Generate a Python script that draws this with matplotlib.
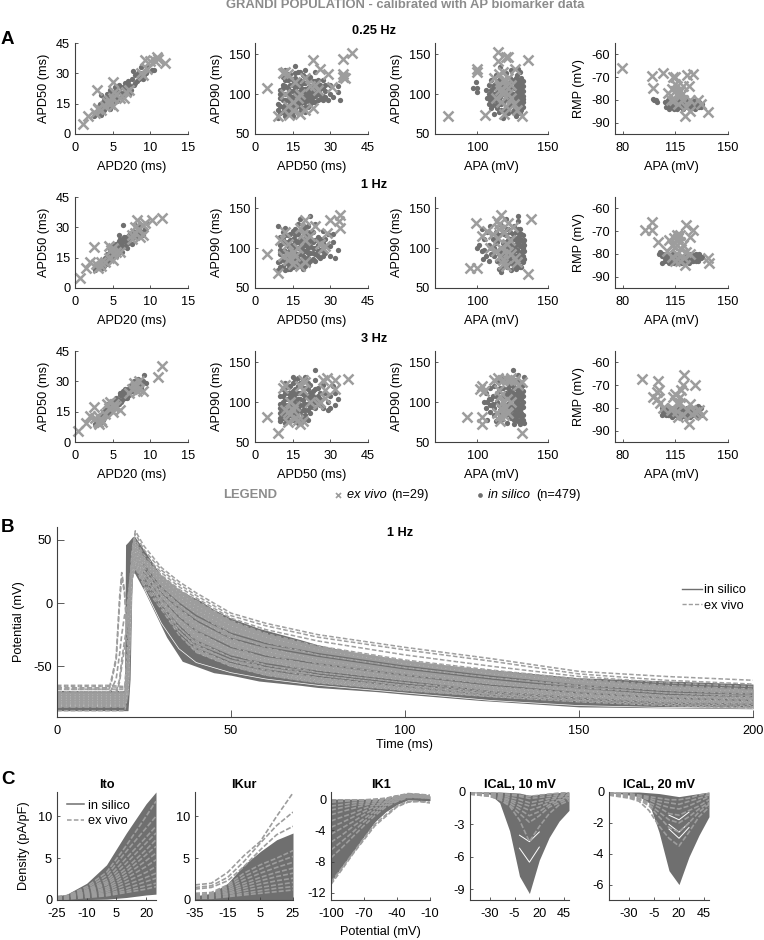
import numpy as np
import matplotlib
matplotlib.use("Agg")
from matplotlib import pyplot as plt
from matplotlib.lines import Line2D

plt.rcParams['font.family'] = ['Liberation Sans', 'DejaVu Sans']
plt.rcParams['font.size'] = 9.2
plt.rcParams['axes.unicode_minus'] = False

W, H = 764, 940
DARK = '#6f6f6f'
LIGHT = '#9d9d9d'
AXC = '#404040'

# ---- panel A, values as (x, y)
# 0.25 Hz
a1_apd2050_sil = [(2.5,9),(2.8,11),(3,10),(3.2,13),(3.4,11),(3.6,14),(3.8,12),(4,16),(4,13),(4.2,18),(4.3,20),(3.5,19.5),
    (4.5,15),(4.7,22),(4.8,17),(5,19),(5.2,16),(5.3,23),(5.5,20),(5.7,18),(5.9,24),(6,21),(6.2,19),(6.5,23),(6.7,25),
    (6.9,21),(7.2,24),(7.4,22),(7.7,31),(7.6,27),(7.8,24),(8,29),(8.2,26),(8.4,30),(8.6,28),(8.8,33),(9,27),(9.3,31),
    (9.6,33),(10.2,31.5),(10.5,31.5),(3.5,9.5),(4.6,12.5),
    (2.7,10),(3,12),(3.3,15),(3.7,16),(3.9,18),(4.2,15),(4.4,17),(4.6,19),(4.9,21),(5.1,18),(5.4,22),(5.6,16.5),(5.8,21),(6.1,23),
    (6.4,20),(6.6,22),(7,23),(7.1,26),(7.3,20.5),(8,25),(8.5,27),(8.9,30),(9.1,29),(9.4,30)]
a1_apd2050_viv = [(1,5),(1.7,9),(2.6,10.5),(2.9,21.8),(3.1,13),(3.5,12),(4,14),(4.3,16),(4.7,15),(5,14),(5,18),(5.2,21),
    (5.4,20),(5.1,25.6),(6,18),(6.5,18),(6.8,21),(7.2,22),(8.8,30),(9,29),(9.5,32),(9.3,36.6),(10,36),(10.9,38),(10.6,36),
    (11,37),(12,35),(3,12.5),(4.5,17)]
a1_apd5090_sil = [(9,70),(9,80),(9,88),(10,76),(10,95),(10,105),(11,84),(11,112),(11,122),(12,73),(12,92),(12,100),(12,130),
    (13,80),(13,108),(13,118),(14,88),(14,97),(14,125),(15,72),(15,104),(15,112),(16,82),(16,92),(16,120),(16,135),(17,100),
    (17,110),(17,128),(18,78),(18,88),(18,118),(19,96),(19,106),(19,124),(20,84),(20,114),(20,130),(21,92),(21,102),(22,88),
    (22,110),(22,122),(23,96),(23,104),(24,90),(24,116),(24,128),(25,100),(25,110),(26,94),(26,106),(27,98),(27,118),(28,104),
    (29,92),(30,112),(30,100),(31,96),(33,103),(34,93),(33,110),(28,112),(12,86),(14,76),(16,100),(20,95),(15,96),
    (10,85),(10,100),(11,78),(11,92),(11,100),(11,108),(12,80),(12,110),(12,118),(13,92),(13,100),(13,125),(14,82),(14,104),(14,112),
    (15,78),(15,88),(15,118),(16,86),(16,108),(16,126),(17,76),(17,90),(17,96),(17,116),(18,84),(18,94),(18,104),(18,110),(18,128),
    (19,82),(19,90),(19,100),(19,114),(20,78),(20,90),(20,100),(20,106),(20,122),(21,84),(21,96),(21,108),(21,116),(22,94),(22,100),
    (22,104),(23,90),(23,110),(23,116),(24,98),(24,106),(25,92),(25,118),(26,100),(26,112),(27,92),(27,108),(28,96)]
a1_apd5090_viv = [(4.6,108),(9.3,72.5),(11,126),(13.7,73.7),(23,143),(25.9,132),(29.2,125),(30.5,109),(35,144),(38.5,152),
    (35,122),(36,120),(35,125),(15,90),(12,100),(13,85),(17,95),(20,80),(23,82),(18,75),(22,110),(25,105),(16,115),(20,120),
    (13,125),(18,100),(15,80),(24,112),(12,128)]
a1_apa90_sil = [(97,108),(100,108),(99,115),(100,103),(106,105),(107,95),(108,112),(108,88),(109,100),(110,118),(110,82),(111,108),
    (111,92),(112,75),(113,86),(113,100),(113,124),(114,112),(115,78),(115,94),(116,106),(116,134),(117,88),(117,120),(118,70),
    (118,100),(119,80),(120,92),(120,126),(121,112),(122,76),(122,104),(123,86),(123,120),(124,96),(124,130),(125,78),(125,108),
    (126,88),(126,118),(127,72),(127,100),(127,112),(128,82),(128,92),(128,124),(129,76),(129,104),(129,116),(130,86),(130,96),
    (130,128),(130,108),(131,80),(131,100),(131,112),(131,120),(132,90),(132,104),(132,94),(126,98),(124,106),(129,132),(120,100),
    (108,100),(109,92),(110,105),(110,96),(111,86),(112,100),(112,112),(113,92),(114,82),(114,102),(115,88),(115,118),(116,96),(117,80),
    (117,108),(118,90),(118,112),(119,100),(120,84),(120,106),(121,96),(122,84),(122,94),(122,114),(123,100),(124,88),(124,114),(125,94),
    (125,100),(126,80),(126,108),(127,84),(127,94),(127,106),(127,120),(128,76),(128,100),(128,110),(129,84),(129,90),(129,98),(129,110),
    (130,76),(130,90),(130,102),(130,116),(131,86),(131,94),(131,106),(132,84),(132,98),(132,110),(132,116)]
a1_apa90_viv = [(79.4,72.5),(99.5,132),(100,128),(105.4,74),(114.6,153),(114.6,142),(120.5,146),(122,146),(136,143),(126.6,132),
    (131.4,72.5),(112,120),(115,125),(118,118),(120,110),(122,100),(124,95),(117,90),(120,85),(113,95),(116,105),(126,88),(128,80),
    (118,128),(122,120),(115,110),(119,75),(124,112),(118,100)]
a1_apa_rmp_sil = [(100,-79.5),(101,-80),(102,-80),(103,-81),(108,-81),(109,-83),(110,-80),(110,-82),(111,-84),(112,-81),(113,-83),
    (114,-80),(115,-82),(116,-84),(117,-80),(118,-83),(119,-81),(120,-84),(121,-82),(122,-80),(123,-83),(124,-81),(125,-84),
    (126,-80),(127,-82),(128,-84),(129,-80),(130,-83),(131,-81),(132,-83),(133,-82),(112,-79),(124,-83),(128,-81),
    (109,-81),(111,-82),(113,-81),(114,-84),(116,-81),(119,-83),(122,-82),(126,-83),(129,-82),(131,-83)]
a1_apa_rmp_viv = [(79.9,-66.2),(99.3,-69.6),(100.5,-74.8),(106.6,-68),(113.6,-70),(115,-70),(122.5,-69),(127,-68.7),(123.8,-73.8),
    (136.8,-85.5),(121.5,-87),(125,-85),(110,-77),(113,-75),(115,-73),(116,-78),(118,-76),(112,-80),(120,-80),(125,-80),(130,-80),
    (132,-82),(117,-82),(122,-83),(114,-80),(116,-74),(119,-78),(120,-74),(115,-76)]

# 1 Hz
a2_apd2050_sil = [(2.6,9),(3,10),(3.2,12),(3.4,9.5),(3.6,13),(3.8,11),(4,15),(4.1,12),(4.3,17),(4.5,14),(4.6,19),(4.8,15),(5,21),
    (5,17),(5.3,18),(5.5,22),(5.7,17),(5.9,20),(6,24),(6.2,21),(6.3,18),(6.5,25),(6.7,23),(6.9,20),(7.1,25),(7.3,24),(7.5,22),
    (7.7,28),(7.9,25),(8,31),(8.2,27),(8.4,30),(8.6,28),(8.8,31),(9,26),(9.3,29),(9.5,32),(6.4,31),(5.9,26),
    (2.9,11),(3.3,10),(3.5,12),(3.9,14),(4.2,13),(4.4,16),(4.7,17),(4.9,19),(5.2,20),(5.4,16),(5.6,20),(5.8,23),(6.1,22),(6.4,23),(6.6,21),
    (6.8,25),(7,22.5),(7.2,26),(7.6,25),(8.1,25),(8.5,26),(9.1,28)]
a2_apd2050_viv = [(0.7,4.8),(1.5,10),(2.5,20.4),(2,13),(8.2,33.7),(10.2,33.7),(11.5,34.8),(3,10),(3.5,11),(4,13),(4.5,15),(5,17),
    (5.5,18),(5,20),(4.5,21),(6,18),(7.5,26),(8,27),(8.5,29),(9,31),(8,30),(9,26),(7.5,24),(3.5,13),(5,14),(2.8,12),(4.8,19),(9.3,32),(8.6,25)]
a2_apd5090_sil = [(9,72),(9,82),(9,128),(10,76),(10,92),(10,104),(10,114),(11,86),(11,120),(12,72),(12,96),(12,108),(12,125),(13,80),
    (13,102),(13,116),(14,74),(14,90),(14,110),(15,84),(15,98),(15,122),(16,78),(16,106),(16,116),(17,92),(17,100),(17,130),(18,84),
    (18,112),(18,136),(19,74),(19,96),(19,124),(20,88),(20,104),(20,118),(21,80),(21,128),(22,94),(22,110),(23,86),(23,100),(23,120),
    (24,92),(24,130),(25,104),(25,114),(26,88),(26,98),(27,106),(27,122),(28,94),(28,112),(29,118),(30,102),(30,90),(31,108),(32,88),
    (33,97),(31,118),(22,140),(14,100),(16,94),(18,100),(21,100),
    (10,84),(10,98),(11,78),(11,96),(11,106),(11,112),(12,84),(12,90),(12,116),(13,74),(13,88),(13,94),(13,108),(14,82),(14,96),(14,104),
    (14,118),(15,76),(15,90),(15,104),(15,112),(16,86),(16,100),(16,110),(16,124),(17,78),(17,86),(17,108),(17,118),(18,78),(18,92),(18,106),
    (18,122),(19,84),(19,90),(19,102),(19,112),(20,78),(20,96),(20,110),(20,126),(21,88),(21,94),(21,106),(21,114),(22,84),(22,102),(22,120),
    (23,94),(23,108),(24,84),(24,100),(24,110),(25,90),(25,96),(26,106),(26,112),(27,96),(27,90),(28,102)]
a2_apd5090_viv = [(4.9,92.5),(9.3,68.5),(19.9,135),(33.9,141),(33.3,134),(33.9,124.6),(30,135),(28.5,119),(10,110),(13,105),(11,90),(13,85),
    (15,80),(18,78),(20,82),(15,95),(17,100),(20,110),(22,115),(24,128),(18,125),(12,120),(26,105),(28,103),(16,90),(14,88),(19,118),(27,100),(13,92)]
a2_apa90_sil = [(100,100),(101,104),(103,96),(103,124),(104,86),(105,98),(105,112),(106,90),(107,120),(108,84),(108,104),(109,128),(110,92),
    (111,112),(112,100),(113,120),(114,84),(114,108),(115,74),(116,96),(116,130),(117,70),(118,106),(119,82),(119,118),(120,92),(120,136),
    (121,76),(122,102),(122,124),(123,86),(123,112),(124,72),(124,96),(125,118),(125,80),(126,104),(126,128),(127,90),(127,74),(127,112),
    (128,98),(128,82),(128,120),(129,106),(129,88),(129,134),(129,140),(130,76),(130,94),(130,112),(130,124),(131,84),(131,102),(131,118),
    (132,90),(132,108),(132,98),(133,86),(133,110),(126,96),(124,104),
    (110,100),(112,90),(113,106),(115,92),(115,116),(116,84),(117,100),(118,78),(118,90),(118,120),(119,108),(120,84),(120,100),(120,116),(121,92),
    (121,124),(122,80),(122,110),(123,96),(123,120),(124,84),(124,112),(125,90),(125,100),(126,78),(126,86),(126,112),(127,82),(127,98),(127,104),
    (127,120),(128,76),(128,90),(128,106),(128,112),(129,80),(129,96),(129,114),(129,124),(130,84),(130,102),(130,118),(131,76),(131,92),(131,110),
    (132,82),(132,100),(132,116),(133,96),(133,104)]
a2_apa90_viv = [(99,131),(137.7,137),(94.8,75.4),(100,75),(136,67.5),(103,115),(107,122),(117,141),(113.7,134),(121.7,132),(125,127),(114.6,113),
    (120.7,105),(116,90),(118,85),(126.6,88),(109,100),(115,124),(123,110),(118,80),(122,95),(117,100),(128,82),(115,130),(119,120),(124,92),(113,96),(120,78),(111,118)]
a2_apa_rmp_sil = [(104,-80),(105,-79),(106,-81),(106,-84),(107,-80),(108,-82),(109,-81),(110,-83),(111,-84),(112,-82),(113,-80),(114,-84),(115,-82),
    (116,-84),(117,-81),(118,-83.5),(119,-82),(120,-84),(121,-81),(122,-83),(123,-81),(124,-84),(125,-82),(126,-80),(127,-83),(128,-81),(129,-83),
    (130,-81),(131,-82),(132,-82),(133,-81.5),(126,-83),(129,-80),
    (108,-83),(110,-81),(112,-84),(114,-82),(116,-82),(119,-84),(121,-83),(123,-83),(125,-80),(127,-81),(130,-83),(131,-80)]
a2_apa_rmp_viv = [(99.8,-65.8),(95,-69.4),(99.3,-69.4),(122,-67.1),(127,-69.3),(125,-72.5),(103.7,-74.9),(137,-81.7),(137.7,-84),(121.5,-85),
    (111,-74),(116,-71.5),(118.2,-74.7),(114.8,-77),(112.6,-81.5),(118,-83),(124.8,-80),(109.3,-78.8),(117,-73),(114,-73),(119,-78),(116,-80),
    (113,-76),(121,-82),(118,-71.5),(115,-83),(122,-79),(120,-76),(116,-76)]

# 3 Hz
a3_apd2050_sil = [(2.7,9),(3,11),(3.2,13),(3.4,10),(3.6,14),(3.8,12),(4,16),(4.1,13),(4.3,19),(4.5,15),(4.7,20),(4.9,16),(5,18),(5.2,21),(5.4,17),
    (5.5,22),(5.8,19),(6,23),(6.2,21),(6.4,25),(6.6,22),(6.8,24),(7,26),(7.2,23),(7.4,28),(7.6,25),(7.8,30),(8,27),(8.2,25),(8.4,31),(8.6,29),(8.8,27),
    (9,30),(9.2,33),(9.4,29),(6,24),(6.7,26),
    (2.9,10),(3.1,9),(3.3,11),(3.5,12),(3.7,11),(3.9,15),(4.2,14),(4.4,17),(4.6,18),(4.8,19),(5.1,17),(5.3,20),(5.6,20),(5.9,21),(6.1,20),(6.3,23),
    (6.9,22),(7.1,24),(7.3,26),(7.7,27),(7.9,25),(8.1,29),(8.3,28),(8.7,26),(8.9,29)]
a3_apd2050_viv = [(0.4,5.2),(1.5,9.6),(2.5,17.2),(2,13),(11,32.3),(11.6,37.7),(2.7,12),(3,10),(3.5,11),(4,14),(4.5,17),(5,18),(5.5,18),(5,15),(6,16),
    (4.3,19),(7.5,26),(8,27),(8.5,26),(9,25),(8.5,30),(7.8,29),(3.2,9),(4.7,20),(3.6,10),(5.2,19),(8.2,25),(7.2,24),(3,13)]
a3_apd5090_sil = [(10,76),(10,86),(10,98),(10,108),(11,80),(11,92),(11,116),(12,74),(12,104),(12,124),(13,84),(13,96),(13,112),(14,76),(14,90),(14,120),
    (15,100),(15,108),(15,132),(16,80),(16,92),(16,116),(17,74),(17,86),(17,104),(17,130),(18,96),(18,112),(18,124),(19,82),(19,102),(20,90),(20,118),
    (20,132),(21,98),(21,108),(22,86),(22,122),(23,102),(23,114),(24,92),(24,128),(24,140),(25,108),(25,118),(26,96),(26,104),(27,92),(27,122),(28,112),
    (29,100),(30,92),(30,108),(31,120),(32,96),(33,104),(32,112),(29,90),(12,112),(15,92),(19,110),(14,106),
    (10,80),(10,92),(11,86),(11,100),(11,108),(12,82),(12,90),(12,96),(12,118),(13,78),(13,90),(13,104),(13,120),(14,84),(14,98),(14,112),(15,78),(15,84),
    (15,114),(15,124),(16,86),(16,98),(16,104),(16,110),(16,128),(17,80),(17,92),(17,98),(17,112),(17,120),(18,78),(18,88),(18,104),(19,76),(19,90),(19,96),
    (19,118),(19,126),(20,84),(20,98),(20,108),(21,78),(21,90),(21,116),(21,124),(22,94),(22,104),(22,112),(23,94),(23,108),(24,100),(24,116),(25,98),(26,112)]
a3_apd5090_viv = [(4.9,81),(9.3,61),(37.2,128.6),(28.5,130),(31.9,127.5),(31.9,117),(12,122),(12,90),(14,85),(16,80),(13,75),(18,120),(20,125),(19,115),
    (16,95),(14,100),(18,72),(19,76),(22,100),(26,100),(28,105),(25,98),(28,115),(15,90),(13,88),(17,78),(19,128),(27,128),(11,118)]
a3_apa90_sil = [(105,100),(106,112),(106,92),(107,78),(108,104),(109,118),(109,88),(110,96),(111,108),(112,120),(112,84),(113,76),(114,100),(114,112),(115,126),
    (116,90),(117,78),(117,106),(118,118),(119,96),(119,130),(120,84),(121,74),(121,108),(122,124),(123,92),(123,114),(124,80),(124,102),(125,120),(125,140),
    (126,72),(126,90),(126,110),(127,100),(127,128),(128,78),(128,118),(128,94),(129,84),(129,106),(129,134),(130,72),(130,90),(130,112),(130,124),(131,78),
    (131,98),(131,116),(131,104),(132,84),(132,94),(132,108),(133,74),(133,132),(127,82),(125,96),(128,106),
    (107,100),(109,96),(110,104),(111,98),(112,92),(113,108),(115,96),(115,114),(116,84),(116,118),(118,84),(118,100),(119,108),(120,94),(120,112),(121,88),
    (122,98),(122,118),(123,84),(123,106),(124,90),(124,110),(124,122),(125,84),(125,104),(125,112),(126,78),(126,96),(126,118),(127,88),(127,108),(127,118),
    (128,84),(128,100),(128,112),(128,126),(129,76),(129,92),(129,98),(129,114),(130,82),(130,96),(130,104),(130,118),(131,86),(131,92),(131,110),(131,122),
    (132,78),(132,100),(132,114),(132,122)]
a3_apa90_viv = [(92.9,81.7),(103,72),(103,81),(131.4,61),(102,117),(114.6,130),(120.8,128),(126.7,128),(131.4,125),(115,115),(119.6,94),(116,82),(120.8,88),
    (124,100),(103,120),(105,114),(112,128),(118,128),(124,130),(116,76),(119,84),(117,92),(121,104),(114,86),(118,100),(129,122),(116,108),(123,128),(122,86)]
a3_apa_rmp_sil = [(106,-80),(106,-83),(107,-82),(108,-80),(109,-83),(110,-81),(111,-83),(112,-82),(113,-84),(114,-81),(115,-83),(116,-80),(117,-84),(118,-82),
    (119,-84),(120,-81),(121,-83),(122,-84),(123,-80),(124,-82),(125,-84),(126,-81),(127,-83),(128,-80),(129,-82),(130,-79),(130,-84),(131,-81),(132,-80),(132,-83),(125,-83),
    (108,-82),(110,-83),(112,-80),(114,-83),(116,-82),(118,-84),(120,-83),(123,-82),(126,-83),(128,-83),(130,-81)]
a3_apa_rmp_viv = [(93,-67.5),(103.7,-68.3),(102.8,-73),(100.5,-75.2),(120.8,-65.5),(128,-70),(120,-70),(124,-87),(132.5,-83),(113.6,-75.2),(118,-75.2),(116,-78),
    (105,-78),(116,-81.5),(122.6,-81),(125,-78.5),(107,-80),(125.9,-82.5),(119,-72),(115,-74),(118,-78),(103,-76),(104,-72),(120,-83),(113,-80),(128,-82),(131,-81),(117,-84),(112,-81)]

rates = ['0.25 Hz', '1 Hz', '3 Hz']
row_data = [
    [(a1_apd2050_sil, a1_apd2050_viv), (a1_apd5090_sil, a1_apd5090_viv), (a1_apa90_sil, a1_apa90_viv), (a1_apa_rmp_sil, a1_apa_rmp_viv)],
    [(a2_apd2050_sil, a2_apd2050_viv), (a2_apd5090_sil, a2_apd5090_viv), (a2_apa90_sil, a2_apa90_viv), (a2_apa_rmp_sil, a2_apa_rmp_viv)],
    [(a3_apd2050_sil, a3_apd2050_viv), (a3_apd5090_sil, a3_apd5090_viv), (a3_apa90_sil, a3_apa90_viv), (a3_apa_rmp_sil, a3_apa_rmp_viv)],
]

# ---- panel B
t_sil = [0,19.4,19.7,20.4,21,21.6,22.2,25,31.5,36,41,45,50,58,70,75,92,100,122,150,200]
v_sil_up = [-69,-69,46,48,50,52,53,42,15,9,2,-5,-12,-20,-29,-33,-43,-47,-52,-59,-64]
v_sil_lo = [-85,-85,-85,-85,-60,22,24,10,-27,-46,-51,-55,-57,-61.6,-65,-66.7,-70,-72,-77,-82,-83.5]
t_viv = [0,15,19.5,20.5,21.5,22.5,25,30,35,40,50,60,75,100,125,150,175,200]
viv_traces = [
    [-65,-65,-66,-20,40,57,45,28,17,8,-8,-16,-25,-35,-44,-54,-58,-61],
    [-66,-66,-67,-30,35,55,42,26,15,6,-10,-18,-27,-37,-46,-56,-61,-64],
    [-68,-68,-68,-40,30,50,38,24,13,4,-12,-21,-30,-41,-50,-58,-63,-66],
    [-70,-70,-70,-45,30,48,36,22,11,2,-14,-24,-34,-45,-53,-60,-65,-68],
    [-72,-72,-72,-50,28,46,34,20,8,-2,-18,-27,-37,-48,-56,-62,-67,-70],
    [-74,-74,-74,-50,26,44,32,17,5,-5,-22,-31,-41,-51,-59,-65,-69,-72],
    [-75,-75,-75,-55,26,42,30,14,2,-8,-25,-35,-45,-55,-62,-67,-71,-74],
    [-76,-76,-76,-55,25,41,28,12,-1,-12,-28,-38,-48,-57,-64,-69,-73,-75],
    [-78,-78,-78,-60,24,40,26,9,-4,-15,-31,-41,-50,-59,-66,-71,-74,-76],
    [-79,-79,-79,-60,24,38,25,7,-7,-18,-34,-44,-53,-61,-67,-72,-75,-77],
    [-80,-80,-80,-60,22,36,23,5,-10,-22,-37,-46,-55,-63,-69,-73,-76,-78],
    [-81,-81,-81,-65,22,35,21,3,-13,-26,-40,-49,-57,-65,-70,-74,-77,-79],
    [-82,-82,-82,-65,22,34,19,1,-16,-30,-43,-51,-59,-66,-71,-75,-78,-80],
    [-82,-82,-82,-65,20,32,17,-1,-19,-33,-46,-53,-61,-67,-72,-76,-79,-81],
    [-81,-81,-81,-70,20,30,15,-3,-22,-36,-48,-55,-62,-68,-73,-77,-80,-82],
    [-85,-85,-85,-70,18,28,13,-5,-25,-39,-50,-57,-63,-69,-74,-78,-81,-83],
]
viv_band_up = [-70,-70,-70,-45,30,48,36,22,11,2,-14,-24,-34,-45,-53,-60,-65,-68]
viv_band_lo = [-82,-82,-82,-70,18,28,13,-5,-25,-39,-50,-57,-63,-69,-74,-78,-81,-83]
t_early = [0,15,15.5,17,18,18.6,19.4,20,21,22]
early_traces = [
    [-67,-67,-62,-43,5,24,10,-15,20,50],
    [-68,-68,-64,-45,0,20,8,-20,15,48],
    [-70,-70,-69,-60,-40,-25,-10,-5,18,46],
    [-72,-72,-72,-70,-60,-45,-30,-20,10,44],
    [-74,-74,-74,-72,-62,-50,-36,-26,6,42],
]
t_streak = [25,30,35,40,50,60,75,100,125,150,175,200]
sil_streaks = [
    [30,12,0,-10,-24,-32,-40,-50,-58,-65,-70,-72],
    [28,8,-4,-14,-28,-35,-42,-52,-60,-67,-72,-74],
    [24,3,-11,-22,-35,-42,-48,-57,-65,-71,-75,-77],
    [20,-2,-18,-30,-42,-48,-54,-62,-70,-75,-79,-80],
    [18,-5,-21,-33,-44,-50,-56,-64,-71,-76,-80,-81],
    [16,-8,-24,-36,-47,-53,-58,-66,-73,-78,-81,-82],
]
sil_gap = [12,-16,-36,-47,-55,-60,-65,-71,-77,-81,-82.5,-83]

# ---- panel C
v_ito = [-25,-20,-10,0,10,20,25]
ito_up = [0.5,0.7,2,4.2,8,11.5,12.9]
ito_lo = [0,0,0.05,0.1,0.3,0.6,0.7]
ito_viv = [[.4,.5,1.6,3.3,6.5,10,11.8],[.4,.5,1.4,2.9,5.8,8.6,10],[.3,.4,1.2,2.5,5,7.5,8.8],[.3,.4,1.1,2.2,4.4,6.8,8],
    [.3,.4,1,2,3.8,6,7.2],[.3,.3,.9,1.8,3.4,5.4,6.4],[.2,.3,.8,1.5,3,4.7,5.6],[.2,.3,.7,1.3,2.6,4,4.8],[.2,.3,.6,1.1,2.2,3.3,4],
    [.2,.2,.5,.9,1.8,2.7,3.2],[.2,.2,.4,.7,1.4,2.2,2.6],[.1,.2,.4,.6,1.1,1.7,2],[.1,.1,.3,.5,.9,1.3,1.6]]
v_ikur = [-35,-25,-15,-5,5,15,25]
ikur_up = [0.5,0.8,2,4.2,5.8,7.2,8]
ikur_lo = [0,0,0,0,0,0,0]
ikur_viv = [[1.8,2,3.3,5.3,7,10,12.8],[1.5,1.7,2.7,4.6,6.8,8.9,10.5],[1.3,1.5,2.3,4,6,7.8,8.8],[.8,.9,1.8,3.2,4.2,5,5.9],
    [.6,.8,1.6,2.8,3.7,4.5,5.2],[.5,.7,1.4,2.4,3.2,3.9,4.5],[.5,.6,1.2,2,2.7,3.3,3.8],[.4,.5,1,1.7,2.3,2.8,3.2],[.3,.4,.8,1.4,1.9,2.3,2.6],
    [.3,.4,.7,1.1,1.5,1.8,2.1],[.2,.3,.5,.8,1.1,1.4,1.6],[.2,.2,.4,.6,.8,1,1.2]]
v_ik1 = [-100,-90,-80,-70,-60,-50,-40,-30,-20,-10]
ik1_up = [0,0,0,0,0,.1,.4,.8,.7,.4]
ik1_lo = [-10.6,-8.6,-6.7,-4.8,-2.9,-1.6,-.7,-.1,-.2,-.2]
ik1_viv = [[-10.9,-9,-7,-5.2,-3.4,-2.2,-1,-.4,-.3,-.5],[-10.6,-8.8,-6.9,-5,-3.2,-2,-.9,-.3,-.3,-.4],[-7.5,-6.2,-4.8,-3.4,-2.1,-1,-.3,.2,.2,.1],
    [-6.5,-5.4,-4.2,-2.9,-1.8,-.8,-.2,.3,.2,.1],[-5.5,-4.6,-3.5,-2.5,-1.5,-.7,-.1,.3,.3,.2],[-4.5,-3.7,-2.9,-2,-1.2,-.5,0,.4,.3,.2],
    [-3.6,-3,-2.3,-1.6,-.9,-.4,.1,.4,.4,.3],[-2.8,-2.3,-1.8,-1.2,-.7,-.3,.2,.5,.4,.3],[-2,-1.6,-1.2,-.8,-.5,-.1,.2,.5,.5,.3],
    [-1.4,-1.1,-.8,-.6,-.3,0,.3,.6,.5,.4],[-.9,-.7,-.5,-.4,-.2,0,.4,.6,.5,.4],[-.4,-.3,-.2,-.2,-.1,.1,.4,.6,.6,.4],[-.1,-.1,-.1,-.1,0,.1,.4,.7,.6,.5]]
v_cal = [-50,-40,-30,-20,-10,0,10,20,30,40,50]
cal10_up = [0,0,0,0,-.05,-.1,-.3,-.2,-.1,-.05,0]
cal10_lo = [-.05,-.1,-.2,-1,-3.6,-7.8,-9.4,-6.3,-4.2,-2.7,-1.7]
cal10_viv = [[-.2,-.3,-.4,-.7,-1.3,-2.6,-4.6,-3.2,-2,-1.2,-.8],[-.2,-.3,-.4,-.7,-1.2,-2,-2.8,-2.2,-1.4,-1,-.6],[-.15,-.2,-.3,-.6,-1,-1.6,-2.2,-1.8,-1.2,-.8,-.5],
    [-.1,-.2,-.3,-.5,-.8,-1.3,-1.7,-1.4,-1,-.7,-.4],[-.1,-.15,-.25,-.4,-.7,-1,-1.3,-1.1,-.8,-.5,-.3],[-.1,-.1,-.2,-.3,-.5,-.7,-1,-.8,-.6,-.4,-.2],
    [-.05,-.1,-.15,-.2,-.3,-.4,-.6,-.5,-.4,-.25,-.1],[-.05,-.1,-.1,-.15,-.2,-.3,-.4,-.3,-.2,-.1,-.05]]
cal10_gaps = [([0,10,20],[-4,-4.6,-3.7]),([0,10,20],[-5.2,-6.5,-5.1])]
cal20_up = [0,0,0,0,-.05,-.1,-.2,-.3,-.2,-.1,0]
cal20_lo = [-.05,-.1,-.2,-.3,-.7,-2.6,-5.1,-6,-4.2,-2.8,-1.6]
cal20_viv = [[-.2,-.3,-.4,-.6,-1.2,-2.2,-3,-3.5,-2.6,-1.6,-1],[-.2,-.25,-.35,-.5,-.9,-1.6,-2.3,-2.6,-2,-1.3,-.8],[-.15,-.2,-.3,-.45,-.8,-1.3,-1.8,-2,-1.6,-1.1,-.7],
    [-.1,-.2,-.25,-.4,-.7,-1,-1.4,-1.5,-1.2,-.9,-.5],[-.1,-.15,-.2,-.3,-.5,-.8,-1,-1.1,-.9,-.6,-.3],[-.1,-.1,-.15,-.25,-.4,-.6,-.7,-.8,-.6,-.4,-.2],
    [-.05,-.1,-.1,-.2,-.3,-.4,-.5,-.5,-.4,-.2,-.1]]
cal20_gaps = [([10,20,30],[-1.5,-1.8,-1.3]),([10,20,30],[-2.1,-2.6,-2]),([10,20,30],[-2.4,-3,-2.3])]

fig = plt.figure(figsize=(W/100, H/100), dpi=100)


def make_ax(left, top, right, bottom):
    ax = fig.add_axes([left/W, 1-bottom/H, (right-left)/W, (bottom-top)/H])
    for side in ['top', 'right']:
        ax.spines[side].set_visible(False)
    for side in ['left', 'bottom']:
        ax.spines[side].set_color(AXC)
        ax.spines[side].set_linewidth(0.8)
    ax.tick_params(direction='in', length=2.2, width=0.6, color=AXC, labelsize=9.2)
    ax.tick_params(axis='x', pad=5.5)
    ax.tick_params(axis='y', pad=3.5)
    return ax


def ftext(x, y, s, **kw):
    fig.text(x/W, 1-y/H, s, va='center', **kw)


# ---- panel A
lefts = [75, 255, 435, 615]
tops = [43, 197, 351]
xlims = [(0,15), (0,45), (70,150), (75,150)]
ylims = [(0,45), (50,164), (50,164), (-95,-55)]
xticks = [[0,5,10,15], [0,15,30,45], [100,150], [80,115,150]]
yticks = [[0,15,30,45], [50,100,150], [50,100,150], [-90,-80,-70,-60]]
xlabels = ['APD20 (ms)', 'APD50 (ms)', 'APA (mV)', 'APA (mV)']
ylabels = ['APD50 (ms)', 'APD90 (ms)', 'APD90 (ms)', 'RMP (mV)']

for r, top in enumerate(tops):
    ftext(374, top-12, rates[r], ha='center', fontweight='bold', fontsize=9.2)
    for c, left in enumerate(lefts):
        ax = make_ax(left, top, left+113, top+91)
        sil, viv = row_data[r][c]
        sil = np.array(sil).T
        viv = np.array(viv).T
        ax.plot(sil[0], sil[1], 'o', color=DARK, ms=3.8, mew=0, clip_on=False)
        ax.plot(viv[0], viv[1], 'x', color=LIGHT, ms=7.4, mew=1.8, clip_on=False)
        ax.set_xlim(xlims[c])
        ax.set_ylim(ylims[c])
        ax.set_xticks(xticks[c])
        ax.set_yticks(yticks[c])
        ax.set_xlabel(xlabels[c], labelpad=5)
        ax.set_ylabel(ylabels[c], labelpad=4.5)

# row legend
ftext(223, 495, 'LEGEND', ha='left', fontweight='bold', color='#8c8c8c', fontsize=9.4)
fig.add_artist(Line2D([338/W], [1-495/H], marker='x', color=LIGHT, ms=3.6, mew=1.2, ls='none', transform=fig.transFigure))
ftext(347, 495, 'ex vivo', ha='left', style='italic')
ftext(391, 495, '(n=29)', ha='left')
fig.add_artist(Line2D([480/W], [1-495/H], marker='o', color=DARK, ms=3.4, mew=0, ls='none', transform=fig.transFigure))
ftext(488, 495, 'in silico', ha='left', style='italic')
ftext(536, 495, '(n=479)', ha='left')

# ---- panel B
axb = make_ax(57, 527, 753, 717)
axb.fill_between(t_sil, v_sil_lo, v_sil_up, color=DARK, lw=0)
axb.fill_between(t_viv, viv_band_lo, viv_band_up, color=LIGHT, lw=0)
for s in sil_streaks:
    axb.plot(t_streak, s, color=DARK, lw=1.0)
axb.plot(t_streak, sil_gap, color='white', lw=0.5)
for tr in early_traces:
    axb.plot(t_early, tr, color=LIGHT, lw=1.2, ls=(0, (3, 1.5)))
for tr in viv_traces:
    axb.plot(t_viv, tr, color=LIGHT, lw=1.1, ls=(0, (3, 1.5)))
    axb.plot(t_viv, tr, color='white', lw=0.4, alpha=0.6, ls=(0, (1, 7)))
axb.set_xlim(0, 200)
axb.set_ylim(-90, 60)
axb.set_xticks([0, 50, 100, 150, 200])
axb.set_yticks([-50, 0, 50])
axb.tick_params(length=5)
axb.set_xlabel('Time (ms)', labelpad=2)
axb.set_ylabel('Potential (mV)', labelpad=6)
ftext(400, 533, '1 Hz', ha='center', fontweight='bold')
leg_handles = [Line2D([], [], color=DARK, lw=1), Line2D([], [], color=LIGHT, lw=1, ls=(0, (3, 1.5)))]
axb.legend(leg_handles, ['in silico', 'ex vivo'], loc='upper left', bbox_to_anchor=((682-57)/696, 1-(584-527)/190),
           frameon=False, handlelength=1.55, handletextpad=0.2, labelspacing=0.3, borderpad=0, borderaxespad=0, fontsize=9.2)

# ---- panel C
c_panels = [
    ('Ito', 57, 156, v_ito, ito_lo, ito_up, ito_viv, [], (-25,25), (0,12.9), [-25,-10,5,20], [0,5,10]),
    ('IKur', 195, 293, v_ikur, ikur_lo, ikur_up, ikur_viv, [], (-35,25), (0,12.9), [-35,-15,5,25], [0,5,10]),
    ('IK1', 331, 430, v_ik1, ik1_lo, ik1_up, ik1_viv, [], (-100,-10), (-12.9,0.9), [-100,-70,-40,-10], [-12,-8,-4,0]),
    ('ICaL, 10 mV', 470, 569, v_cal, cal10_lo, cal10_up, cal10_viv, cal10_gaps, (-50,50), (-10,0), [-30,-5,20,45], [-9,-6,-3,0]),
    ('ICaL, 20 mV', 609, 709, v_cal, cal20_lo, cal20_up, cal20_viv, cal20_gaps, (-50,50), (-7,0), [-30,-5,20,45], [-6,-4,-2,0]),
]
for i, (name, left, right, v, lo, up, traces, gaps, xl, yl, xt, yt) in enumerate(c_panels):
    ax = make_ax(left, 792, right, 900)
    ax.fill_between(v, lo, up, color=DARK, lw=0)
    for gx, gy in gaps:
        ax.plot(gx, gy, color='white', lw=0.7)
    for tr in traces:
        ax.plot(v, tr, color=LIGHT, lw=1.2, ls=(0, (3, 1.2)))
    ax.set_xlim(xl)
    ax.set_ylim(yl)
    ax.set_xticks(xt)
    ax.set_yticks(yt)
    ftext((left+right)/2, 785, name, ha='center', fontweight='bold')
    if i == 0:
        ax.set_ylabel('Density (pA/pF)', labelpad=6)
        h = [Line2D([], [], color=DARK, lw=1.1), Line2D([], [], color=LIGHT, lw=1.1, ls=(0, (3, 1.5)))]
        ax.legend(h, ['in silico', 'ex vivo'], loc='upper left', bbox_to_anchor=(0.10, 0.93), frameon=False,
                  handlelength=1.3, handletextpad=0.35, labelspacing=0.3, borderpad=0, borderaxespad=0, fontsize=9.2)

ftext(380, 932, 'Potential (mV)', ha='center')
ftext(405, 5, 'GRANDI POPULATION - calibrated with AP biomarker data', ha='center', fontweight='bold', color='#8c8c8c', fontsize=9.35)
for letter, y in [('A', 40), ('B', 528), ('C', 780)]:
    ftext(1, y, letter, ha='left', fontweight='bold', fontsize=13.5)

fig.savefig('out.png', dpi=100)
